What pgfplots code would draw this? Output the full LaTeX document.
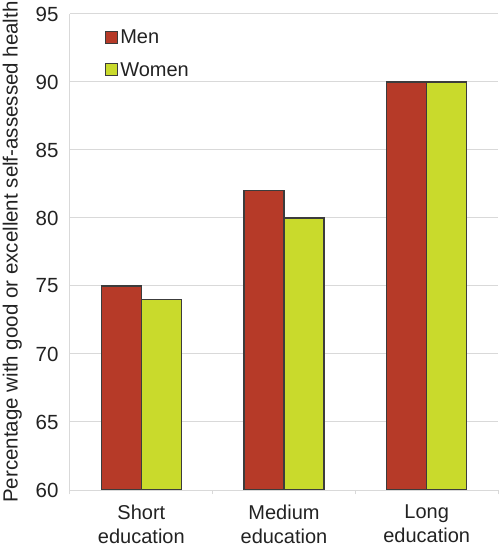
\documentclass[border=0pt]{standalone}
\usepackage{pgfplots}
\pgfplotsset{compat=1.18}
\usepackage{fontspec}
\setmainfont{Liberation Sans}

\definecolor{menred}{HTML}{B63A28}
\definecolor{womengreen}{HTML}{C9DA2C}
\definecolor{barborder}{HTML}{3C3C3C}
\definecolor{gridgray}{HTML}{D9D9D9}
\definecolor{txt}{HTML}{222222}

\begin{document}
\begin{tikzpicture}
\begin{axis}[
    name=main,
    scale only axis,
    width=428bp,
    height=476bp,
    ybar=0pt,
    bar width=40bp,
    xmin=-0.5, xmax=2.5,
    ymin=60, ymax=95,
    ytick={60,65,...,95},
    xtick={0,1,2},
    xticklabels={Short\\education,Medium\\education,Long\\education},
    x tick label style={align=center, font=\fontsize{20bp}{24bp}\selectfont, text=txt},
    y tick label style={font=\fontsize{20.5bp}{24bp}\selectfont, text=txt},
    /pgf/number format/assume math mode=true,
    minor xtick={-0.5,0.5,1.5,2.5},
    major tick length=0pt,
    minor tick length=4bp,
    tick align=outside,
    tick style={draw=gridgray, line width=1bp},
    axis x line*=bottom,
    axis y line*=left,
    axis line style={draw=gridgray, line width=1bp, -},
    ymajorgrids=true,
    grid style={draw=gridgray, line width=1bp},
    ylabel={Percentage with good or excellent self-assessed health},
    ylabel style={font=\fontsize{20.5bp}{24bp}\selectfont, text=txt},
    ylabel shift=7bp,
    xticklabel shift=11bp,
    yticklabel shift=8bp,
    legend style={at={(0.075,0.975)}, anchor=north west, draw=none, fill=none,
        font=\fontsize{20bp}{24bp}\selectfont, text=txt, row sep=13bp,
        /tikz/every even column/.append style={column sep=4bp}},
    legend image code/.code={\draw[#1, line width=1bp] (0bp,-6bp) rectangle (12bp,6bp);},
    legend cell align=left,
]
\addplot[fill=menred, draw=barborder, line width=1.4bp] coordinates {(0,75) (1,82) (2,90)};
\addplot[fill=womengreen, draw=barborder, line width=1.4bp] coordinates {(0,74) (1,80) (2,90)};
\legend{Men,Women}
\end{axis}
\pgfresetboundingbox
\path ([shift={(-70bp,-60bp)}]main.south west) rectangle ([shift={(2bp,14bp)}]main.north east);
\end{tikzpicture}
\end{document}
